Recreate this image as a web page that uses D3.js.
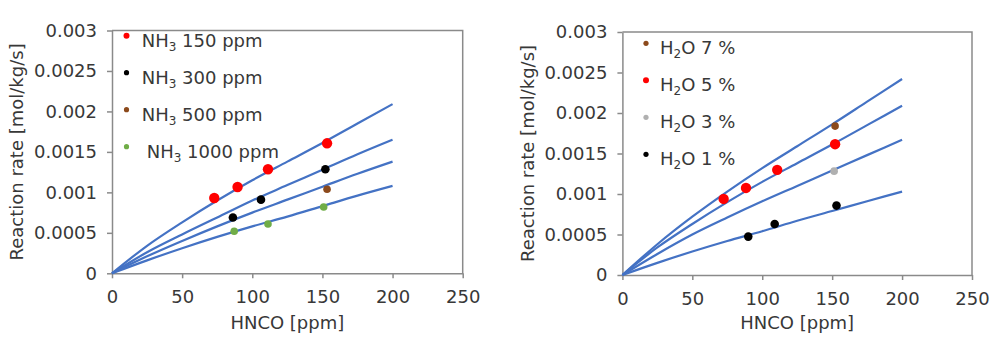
<!DOCTYPE html>
<html>
<head>
<meta charset="utf-8">
<script src="https://cdn.jsdelivr.net/npm/d3@7"></script>
<style>
  body { margin: 0; background: #fff; }
  svg text { font-family: "DejaVu Sans", Verdana, sans-serif; fill: #383838; }
</style>
</head>
<body>
<div id="chart"></div>
<script>
const fitX = [0, 25, 50, 75, 100, 125, 150, 175, 200];

// left panel: NH3 series (fitted curves)
const fitNH3_150 = [0, 0.00034, 0.00063, 0.00090, 0.00115, 0.00138, 0.00161, 0.00185, 0.00209];
const fitNH3_300 = [0, 0.00026, 0.00048, 0.00069, 0.00090, 0.00109, 0.00128, 0.00147, 0.00165];
const fitNH3_500 = [0, 0.00021, 0.00040, 0.00058, 0.00075, 0.00091, 0.00107, 0.00123, 0.00138];
const fitNH3_1000 = [0, 0.00016, 0.00031, 0.00045, 0.00058, 0.00070, 0.00083, 0.00096, 0.00108];

// left panel: measured points
const nh3_150_x = [72.9, 89.5, 111.2, 153.3];
const nh3_150_y = [0.00093, 0.001066, 0.001285, 0.001606];
const nh3_300_x = [86.2, 106.2, 152.1];
const nh3_300_y = [0.00069, 0.00091, 0.001285];
const nh3_500_x = [153.3];
const nh3_500_y = [0.001038];
const nh3_1000_x = [87.1, 111.2, 150.9];
const nh3_1000_y = [0.000519, 0.000609, 0.000819];

// right panel: H2O series (fitted curves)
const fitH2O_7 = [0, 0.00038, 0.00072, 0.00103, 0.00132, 0.00159, 0.00186, 0.00214, 0.00242];
const fitH2O_5 = [0, 0.00034, 0.00063, 0.00090, 0.00115, 0.00138, 0.00161, 0.00185, 0.00209];
const fitH2O_3 = [0, 0.00026, 0.00050, 0.00071, 0.00091, 0.00110, 0.00129, 0.00148, 0.00167];
const fitH2O_1 = [0, 0.00015, 0.00029, 0.00042, 0.00054, 0.00067, 0.00079, 0.00091, 0.00103];

// right panel: measured points
const h2o_7_x = [152.1];
const h2o_7_y = [0.001838];
const h2o_5_x = [72.4, 88.4, 110.7, 152.1];
const h2o_5_y = [0.000939, 0.001075, 0.001298, 0.001615];
const h2o_3_x = [151.4];
const h2o_3_y = [0.001282];
const h2o_1_x = [90, 108.9, 153.1];
const h2o_1_y = [0.000474, 0.00063, 0.000857];

const xTicks = [0, 50, 100, 150, 200, 250];
const yTicks = [0, 0.0005, 0.001, 0.0015, 0.002, 0.0025, 0.003];
const yTickLabels = ["0", "0.0005", "0.001", "0.0015", "0.002", "0.0025", "0.003"];

const xTitle = "HNCO [ppm]";
const yTitle = "Reaction rate [mol/kg/s]";

let svg = d3.select("#chart").append("svg")
    .attr("width", 1000)
    .attr("height", 350);

function drawPanel(p){
    let x = d3.scaleLinear().domain([0, 250]).range([p.left, p.right]);
    let y = d3.scaleLinear().domain([0, 0.003]).range([p.bottom, p.top]);
    let g = svg.append("g");

    // plot box (top and right)
    g.append("path")
        .attr("d", "M" + x(0) + "," + y(0.003) + "H" + x(250) + "V" + y(0))
        .attr("fill", "none")
        .attr("stroke", "#8a8a8a")
        .attr("stroke-width", 1.5);

    let xa = g.append("g")
        .attr("transform", "translate(0," + y(0) + ")")
        .call(d3.axisBottom(x).tickValues(xTicks).tickSize(5).tickPadding(12).tickSizeOuter(0));
    let ya = g.append("g")
        .attr("transform", "translate(" + x(0) + ",0)")
        .call(d3.axisLeft(y).tickValues(yTicks).tickSize(5).tickPadding(10).tickSizeOuter(0)
            .tickFormat((d, i) => yTickLabels[i]));
    [xa, ya].forEach(a => {
        a.select(".domain").attr("stroke", "#8a8a8a").attr("stroke-width", 1.5);
        a.selectAll(".tick line").attr("stroke", "#8a8a8a").attr("stroke-width", 1.5);
        a.selectAll("text").attr("font-size", 18).attr("font-family", null).attr("fill", "#383838");
    });

    g.append("text")
        .attr("x", (p.left + p.right) / 2)
        .attr("y", 329)
        .attr("text-anchor", "middle")
        .attr("font-size", 18)
        .text(xTitle);
    g.append("text")
        .attr("transform", "translate(" + p.yTitleX + "," + ((p.top + p.bottom) / 2) + ") rotate(-90)")
        .attr("text-anchor", "middle")
        .attr("font-size", 18)
        .text(yTitle);

    let line = d3.line()
        .x((d, i) => x(fitX[i]))
        .y(d => y(d))
        .curve(d3.curveMonotoneX);
    p.fits.forEach(f => {
        g.append("path")
            .attr("d", line(f))
            .attr("fill", "none")
            .attr("stroke", "#4472c4")
            .attr("stroke-width", 2.2);
    });

    p.series.forEach(s => {
        g.selectAll(null)
            .data(s.xs)
            .enter().append("circle")
            .attr("cx", d => x(d))
            .attr("cy", (d, i) => y(s.ys[i]))
            .attr("r", s.r)
            .attr("fill", s.color);
    });

    // legend
    p.legend.forEach((s, i) => {
        g.append("circle")
            .attr("cx", p.legX)
            .attr("cy", p.legY + i * 37)
            .attr("r", s.lr)
            .attr("fill", s.color);
        let t = g.append("text")
            .attr("x", p.legTextX + (s.dx || 0))
            .attr("y", p.legY + 11 + i * 37)
            .attr("font-size", 18)
            .style("white-space", "pre");
        t.append("tspan").text(s.main);
        t.append("tspan").attr("font-size", 12).attr("dy", 4).text(s.sub);
        t.append("tspan").attr("dy", -4).text(s.rest);
    });
}

drawPanel({
    left: 112, right: 462.7, top: 30.5, bottom: 273.3, yTitleX: 23,
    fits: [fitNH3_150, fitNH3_300, fitNH3_500, fitNH3_1000],
    series: [
        {xs: nh3_150_x, ys: nh3_150_y, color: "#ff0000", r: 5.2},
        {xs: nh3_300_x, ys: nh3_300_y, color: "#000000", r: 4.3},
        {xs: nh3_500_x, ys: nh3_500_y, color: "#8c4a1c", r: 3.8},
        {xs: nh3_1000_x, ys: nh3_1000_y, color: "#70ad47", r: 3.8}
    ],
    legX: 126.5, legY: 35.7, legTextX: 141.7,
    legend: [
        {color: "#ff0000", lr: 3, main: "NH", sub: "3", rest: " 150 ppm"},
        {color: "#000000", lr: 2.6, main: "NH", sub: "3", rest: " 300 ppm"},
        {color: "#8c4a1c", lr: 2.6, main: "NH", sub: "3", rest: " 500 ppm"},
        {color: "#70ad47", lr: 2.6, main: "NH", sub: "3", rest: " 1000 ppm", dx: 5}
    ]
});

drawPanel({
    left: 622.4, right: 972, top: 32, bottom: 275, yTitleX: 534,
    fits: [fitH2O_7, fitH2O_5, fitH2O_3, fitH2O_1],
    series: [
        {xs: h2o_7_x, ys: h2o_7_y, color: "#8c4a1c", r: 3.8},
        {xs: h2o_5_x, ys: h2o_5_y, color: "#ff0000", r: 5.2},
        {xs: h2o_3_x, ys: h2o_3_y, color: "#b0b0b0", r: 3.8},
        {xs: h2o_1_x, ys: h2o_1_y, color: "#000000", r: 4.3}
    ],
    legX: 646, legY: 43.3, legTextX: 660,
    legend: [
        {color: "#8c4a1c", lr: 2.6, main: "H", sub: "2", rest: "O 7 %"},
        {color: "#ff0000", lr: 3, main: "H", sub: "2", rest: "O 5 %"},
        {color: "#b0b0b0", lr: 2.6, main: "H", sub: "2", rest: "O 3 %"},
        {color: "#000000", lr: 2.6, main: "H", sub: "2", rest: "O 1 %"}
    ]
});
</script>
</body>
</html>
